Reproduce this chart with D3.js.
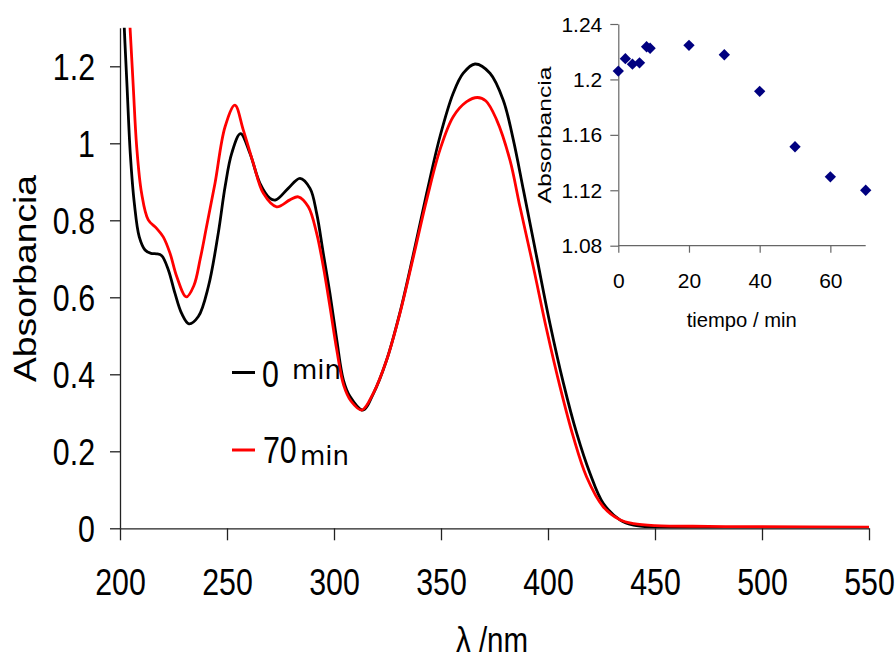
<!DOCTYPE html>
<html><head><meta charset="utf-8">
<script src="https://cdn.jsdelivr.net/npm/d3@7"></script>
<style>body{margin:0;background:#fff} svg{display:block}</style>
</head><body><svg id="c" width="895" height="660"></svg>
<script>
// ---- main spectra ----
const wavelength0 = [200,201,202,203.3,204.8,206.7,209,211.7,214.5,217,219.5,222.6,225.7,228.8,232.2,236.6,241.3,245.9,249.1,252.2,256.3,260.7,265.4,270.1,272.8,278.6,284.1,288.8,291.9,295,298.1,301.3,304.4,307.5,313.5,318.4,324.6,330.8,337.1,343.3,349.5,355.7,360.4,365.9,372.9,379.1,383.8,388.5,394.7,400.9,407.2,413.4,419.6,425.8,433.6,440,450,475,500,550];
const absorbance0 = [1.60,1.45,1.30,1.147,0.974,0.844,0.757,0.723,0.714,0.713,0.708,0.671,0.610,0.558,0.531,0.550,0.628,0.766,0.887,0.974,1.025,0.974,0.896,0.857,0.853,0.883,0.909,0.883,0.818,0.714,0.610,0.489,0.385,0.342,0.307,0.350,0.437,0.560,0.712,0.870,1.017,1.130,1.182,1.206,1.182,1.112,1.009,0.879,0.705,0.532,0.377,0.247,0.143,0.065,0.022,0.008,0.003,0.001,0.001,0.0];
const wavelength70 = [200,202,203.5,204.7,206.2,207.8,210.1,213.2,217.1,220.2,223.4,226.5,231,234.5,237.5,240.5,244.4,249.1,253.7,257.6,262.3,267,273.2,279.4,283.3,288,291.9,295,298.1,301.3,304.5,308,313,318.4,324.6,330.8,337.1,343.3,349.5,355.7,362,367,371,376,382.2,386.9,393.1,399.4,405.6,411.8,418,425.8,433.6,440,450,475,500,550];
const absorbance70 = [1.78,1.55,1.40,1.30,1.147,0.991,0.870,0.801,0.779,0.757,0.714,0.654,0.601,0.630,0.700,0.785,0.896,1.043,1.099,1.035,0.948,0.870,0.835,0.853,0.861,0.835,0.766,0.680,0.576,0.463,0.372,0.330,0.307,0.351,0.437,0.558,0.705,0.853,0.983,1.069,1.108,1.119,1.110,1.061,0.957,0.835,0.680,0.515,0.368,0.238,0.134,0.056,0.022,0.012,0.007,0.005,0.004,0.003];
const seriesLabels = ["0", "70"];
const seriesUnit = "min";
const xTicks = [200,250,300,350,400,450,500,550];
const yTicks = [0,0.2,0.4,0.6,0.8,1,1.2];

// ---- inset ----
const insetTime = [0,2,4,6,8,9,20,30,40,50,60,70];
const insetAbs = [1.206,1.215,1.211,1.212,1.2236,1.2225,1.2246,1.2178,1.1914,1.1514,1.1297,1.120];
const insetYTicks = [1.08,1.12,1.16,1.2,1.24];
const insetXTicks = [0,20,40,60];

const FONT = "'Liberation Sans', Arial, sans-serif";
const SQ = 0.82; // horizontal squeeze of the main chart's text
const svg = d3.select("#c");

const x = d3.scaleLinear().domain([200,550]).range([120,869]);
const y = d3.scaleLinear().domain([0,1.3]).range([528.3,27.8]);

svg.append("clipPath").attr("id","plotclip").append("rect")
  .attr("x",120).attr("y",27.8).attr("width",749).attr("height",500.5);

// axes
const gy = svg.append("g").attr("transform","translate(120,0)")
  .call(d3.axisLeft(y).tickValues(yTicks).tickSize(10).tickSizeOuter(0).tickFormat(d3.format("~g")));
gy.selectAll("text").attr("x",-25/SQ).attr("dy","0.36em").attr("transform",`scale(${SQ},1)`);
const gx = svg.append("g").attr("transform","translate(0,528.3)")
  .call(d3.axisBottom(x).tickValues(xTicks).tickSize(12).tickSizeOuter(0).tickFormat(d3.format("d")));
gx.selectAll("text").attr("y",40).attr("dy","0.71em").attr("transform",`scale(${SQ},1)`).attr("x",0);
[gx,gy].forEach(g=>{
  g.selectAll("path,line").attr("stroke","#222").attr("stroke-width",1.3);
  g.selectAll("text").attr("fill","#000").style("font-family",FONT).style("font-size","37px");
});

// lines
const line = d3.line().x(d=>x(d[0])).y(d=>y(d[1])).curve(d3.curveCatmullRom.alpha(0.5));
const plot = svg.append("g").attr("clip-path","url(#plotclip)");
plot.append("path").datum(d3.zip(wavelength0,absorbance0))
  .attr("d",line).attr("fill","none").attr("stroke","#000").attr("stroke-width",2.8);
plot.append("path").datum(d3.zip(wavelength70,absorbance70))
  .attr("d",line).attr("fill","none").attr("stroke","#ff0000").attr("stroke-width",2.8);

// axis titles
svg.append("text").attr("transform",`translate(492,652) scale(${SQ},1)`)
  .attr("text-anchor","middle").style("font-family",FONT).style("font-size","36px").text("λ /nm");
svg.append("text").attr("transform","translate(36,278.5) rotate(-90)")
  .attr("text-anchor","middle").attr("textLength",207).attr("lengthAdjust","spacingAndGlyphs")
  .style("font-family",FONT).style("font-size","32px").text("Absorbancia");

// legend
const legend = [
  {label: seriesLabels[0], color:"#000", ly:372.5, tx:262, tb:387, mx:292, mb:379},
  {label: seriesLabels[1], color:"#ff0000", ly:450, tx:263, tb:463, mx:300, mb:465}
];
legend.forEach(l=>{
  svg.append("line").attr("x1",232).attr("x2",255).attr("y1",l.ly).attr("y2",l.ly)
    .attr("stroke",l.color).attr("stroke-width",3);
  svg.append("text").attr("transform",`translate(${l.tx},${l.tb}) scale(${SQ},1)`)
    .style("font-family",FONT).style("font-size","37px").text(l.label);
  svg.append("text").attr("x",l.mx).attr("y",l.mb)
    .style("font-family","'DejaVu Sans', sans-serif").style("font-size","26px").text(seriesUnit);
});

// ---- inset ----
const ix = d3.scaleLinear().domain([0,70]).range([618.3,865.7]);
const iy = d3.scaleLinear().domain([1.08,1.24]).range([245.7,24]);
const igy = svg.append("g").attr("transform","translate(618.3,0)")
  .call(d3.axisLeft(iy).tickValues(insetYTicks).tickSize(8).tickSizeOuter(0).tickPadding(8).tickFormat(d3.format("~g")));
const igx = svg.append("g").attr("transform","translate(0,245.7)")
  .call(d3.axisBottom(ix).tickValues(insetXTicks).tickSize(7).tickSizeOuter(0).tickPadding(20).tickFormat(d3.format("d")));
[igx,igy].forEach(g=>{
  g.selectAll("path,line").attr("stroke","#666").attr("stroke-width",1.2);
  g.selectAll("text").attr("fill","#000").style("font-family",FONT).style("font-size","21px");
});
igy.selectAll("text").attr("dy","0.34em");
igx.select(".domain").attr("d","M618.3,0H865.7");

svg.append("g").selectAll("path").data(d3.zip(insetTime,insetAbs)).join("path")
  .attr("d",d3.symbol(d3.symbolSquare,64))
  .attr("transform",d=>`translate(${ix(d[0])},${iy(d[1])}) rotate(45)`)
  .attr("fill","#000080");

svg.append("text").attr("x",741.7).attr("y",327).attr("text-anchor","middle")
  .attr("textLength",110).attr("lengthAdjust","spacingAndGlyphs")
  .style("font-family",FONT).style("font-size","21px").text("tiempo / min");
svg.append("text").attr("transform","translate(551,135) rotate(-90)")
  .attr("text-anchor","middle").attr("textLength",137).attr("lengthAdjust","spacingAndGlyphs")
  .style("font-family",FONT).style("font-size","19px").text("Absorbancia");
</script></body></html>
